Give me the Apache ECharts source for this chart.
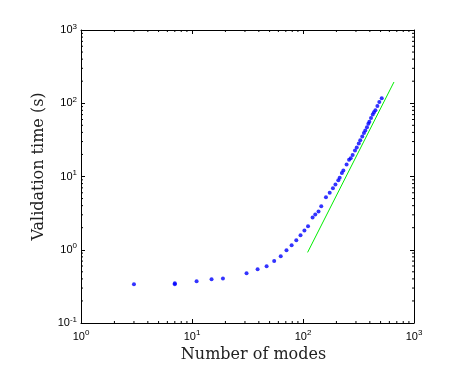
<!DOCTYPE html>
<html>
<head>
<meta charset="utf-8">
<script src="https://cdn.jsdelivr.net/npm/echarts@6/dist/echarts.min.js"></script>
<style>
html,body{margin:0;padding:0;background:#fff;}
#chart{width:453px;height:374px;}
</style>
</head>
<body>
<div id="chart"></div>
<script>
// Data
const modes = [3, 7, 7, 11, 15, 19, 31, 39, 47, 55, 63, 71, 79, 87, 95, 103, 111, 122, 129, 138, 146, 161, 174, 186, 196, 208, 214, 224, 231, 247, 260, 269, 280, 294, 305, 318, 328, 342, 354, 364, 377, 388, 396, 410, 425, 436, 449, 468, 487, 512];
const times = [0.338, 0.35, 0.338, 0.372, 0.395, 0.404, 0.477, 0.54, 0.595, 0.70, 0.815, 0.985, 1.15, 1.35, 1.58, 1.83, 2.1, 2.75, 3.03, 3.33, 3.93, 5.2, 6.0, 6.9, 7.8, 8.9, 9.6, 11.2, 12.1, 14.6, 16.9, 17.8, 19.7, 22.6, 24.9, 28.2, 31.3, 35.2, 39.1, 42.5, 47.1, 52.4, 55.7, 63, 70.3, 75.5, 80.5, 92, 104, 117];
const fitModes = [110, 660];
const fitTimes = [0.92, 195];
// Axis tick positions
const xMinorTicks = [2,3,4,5,6,7,8,9,20,30,40,50,60,70,80,90,200,300,400,500,600,700,800,900];
const yMinorTicks = [0.2,0.3,0.4,0.5,0.6,0.7,0.8,0.9,2,3,4,5,6,7,8,9,20,30,40,50,60,70,80,90,200,300,400,500,600,700,800,900];
const X_MIN = 1, X_MAX = 1000, Y_MIN = 0.1, Y_MAX = 1000;

const chart = echarts.init(document.getElementById('chart'), null, {renderer: 'canvas'});

const labelRich = {
  b: {fontFamily: 'Liberation Sans', fontSize: 11, color: '#000'},
  s: {fontFamily: 'Liberation Sans', fontSize: 8, color: '#000', padding: [0, 0, 7, 0]}
};
const labelFmt = v => '{b|10}{s|' + Math.round(Math.log10(v)) + '}';
const lineStyle = {color: '#000', width: 1};

function minorTickSeries(ticks, isX) {
  return {
    type: 'custom',
    silent: true,
    xAxisIndex: 0, yAxisIndex: 0,
    data: ticks.map(v => isX ? [v, 1] : [1, v]),
    renderItem: function (params, api) {
      const len = 2;
      if (isX) {
        const v = api.value(0);
        const b = api.coord([v, Y_MIN]);
        const t = api.coord([v, Y_MAX]);
        return {type: 'group', children: [
          {type: 'line', shape: {x1: b[0], y1: b[1], x2: b[0], y2: b[1] - len}, style: {stroke: '#000', lineWidth: 1}},
          {type: 'line', shape: {x1: t[0], y1: t[1], x2: t[0], y2: t[1] + len}, style: {stroke: '#000', lineWidth: 1}}
        ]};
      } else {
        const v = api.value(1);
        const l = api.coord([X_MIN, v]);
        const r = api.coord([X_MAX, v]);
        return {type: 'group', children: [
          {type: 'line', shape: {x1: l[0], y1: l[1], x2: l[0] + len, y2: l[1]}, style: {stroke: '#000', lineWidth: 1}},
          {type: 'line', shape: {x1: r[0], y1: r[1], x2: r[0] - len, y2: r[1]}, style: {stroke: '#000', lineWidth: 1}}
        ]};
      }
    }
  };
}

const option = {
  animation: false,
  backgroundColor: '#fff',
  grid: {left: 81, right: 39, top: 30, bottom: 51, containLabel: false},
  xAxis: [
    {
      type: 'log', logBase: 10, min: X_MIN, max: X_MAX, position: 'bottom',
      name: 'Number of modes', nameLocation: 'middle', nameGap: 23,
      nameTextStyle: {fontFamily: 'DejaVu Serif', fontSize: 16, color: '#222', padding: [0, 0, 0, 12]},
      axisLine: {show: true, lineStyle: lineStyle},
      axisTick: {show: true, inside: true, length: 4, lineStyle: lineStyle},
      axisLabel: {formatter: labelFmt, rich: labelRich, margin: 6},
      splitLine: {show: false}
    },
    {
      type: 'log', logBase: 10, min: X_MIN, max: X_MAX, position: 'top',
      axisLine: {show: true, lineStyle: lineStyle},
      axisTick: {show: true, inside: true, length: 4, lineStyle: lineStyle},
      axisLabel: {show: false}, splitLine: {show: false}
    }
  ],
  yAxis: [
    {
      type: 'log', logBase: 10, min: Y_MIN, max: Y_MAX, position: 'left',
      name: 'Validation time (s)', nameLocation: 'middle', nameGap: 33, nameRotate: 90,
      nameTextStyle: {fontFamily: 'DejaVu Serif', fontSize: 16, color: '#222', padding: [0, 0, 0, 20]},
      axisLine: {show: true, lineStyle: lineStyle},
      axisTick: {show: true, inside: true, length: 4, lineStyle: lineStyle},
      axisLabel: {formatter: labelFmt, rich: labelRich, margin: 4},
      splitLine: {show: false}
    },
    {
      type: 'log', logBase: 10, min: Y_MIN, max: Y_MAX, position: 'right',
      axisLine: {show: true, lineStyle: lineStyle},
      axisTick: {show: true, inside: true, length: 4, lineStyle: lineStyle},
      axisLabel: {show: false}, splitLine: {show: false}
    }
  ],
  series: [
    minorTickSeries(xMinorTicks, true),
    minorTickSeries(yMinorTicks, false),
    {
      type: 'line', xAxisIndex: 0, yAxisIndex: 0,
      data: fitModes.map((x, i) => [x, fitTimes[i]]),
      symbol: 'none', lineStyle: {color: '#00ee00', width: 1}
    },
    {
      type: 'scatter', xAxisIndex: 0, yAxisIndex: 0,
      data: modes.map((x, i) => [x, times[i]]),
      symbol: 'circle', symbolSize: 4,
      itemStyle: {color: '#0000ff'}
    }
  ]
};
chart.setOption(option);
</script>
</body>
</html>
